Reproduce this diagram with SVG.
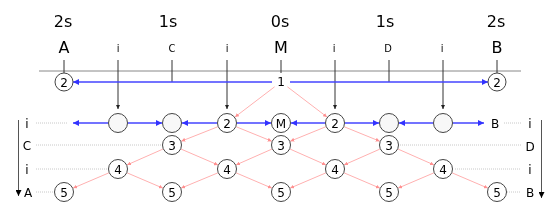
<svg xmlns="http://www.w3.org/2000/svg" width="558" height="204" viewBox="0 0 558 204">
<defs>
<style>
svg{will-change:transform}
text{font-family:"DejaVu Sans","Liberation Sans",sans-serif;fill:#000;text-anchor:middle}
.big{font-size:16px}
.sm{font-size:11px;font-family:"DejaVu Sans Condensed","DejaVu Sans",sans-serif}
.lab{font-size:12px}
.num{font-size:12px}
.node circle{fill:#fff;stroke:#444;stroke-width:1}
.node.empty circle{fill:#f8f8f8}
.blue{stroke:#4444ff;stroke-width:1.5;fill:none}
.pink{stroke:#ffb0b0;stroke-width:1;fill:none;marker-end:url(#pa)}
.tick{stroke:#333;stroke-width:1;fill:none}
.tickA{stroke:#333;stroke-width:1;fill:none;marker-end:url(#ka)}
.dot{stroke:#c8c8c8;stroke-width:1;stroke-dasharray:1 1;fill:none}
</style>
<marker id="ba" viewBox="0 0 10 10" refX="10" refY="5" markerWidth="7" markerHeight="6" markerUnits="userSpaceOnUse" orient="auto"><path d="M0,0 L10,5 L0,10 z" fill="#3333ff"/></marker>
<marker id="pa" viewBox="0 0 10 10" refX="10" refY="5" markerWidth="4" markerHeight="4" markerUnits="userSpaceOnUse" orient="auto"><path d="M0,0 L10,5 L0,10 z" fill="#ff9090"/></marker>
<marker id="ka" viewBox="0 0 10 10" refX="10" refY="5" markerWidth="4" markerHeight="4" markerUnits="userSpaceOnUse" orient="auto"><path d="M0,0 L10,5 L0,10 z" fill="#222"/></marker>
<marker id="va" viewBox="0 0 10 10" refX="10" refY="5" markerWidth="6" markerHeight="6" markerUnits="userSpaceOnUse" orient="auto"><path d="M0,0 L10,5 L0,10 z" fill="#000"/></marker>
</defs>

<g id="labels-top">
<text class="big" x="63" y="27">2s</text>
<text class="big" x="168" y="27">1s</text>
<text class="big" x="280" y="27">0s</text>
<text class="big" x="385" y="27">1s</text>
<text class="big" x="496" y="27">2s</text>
<text class="big" x="64" y="53">A</text>
<text class="sm" x="118" y="52">i</text>
<text class="sm" x="172" y="52">C</text>
<text class="sm" x="227" y="52">i</text>
<text class="big" x="281" y="53">M</text>
<text class="sm" x="334" y="52">i</text>
<text class="sm" x="388" y="52">D</text>
<text class="sm" x="442" y="52">i</text>
<text class="big" x="497" y="53">B</text>
</g>

<g id="axis">
<line x1="39" y1="71" x2="521" y2="71" stroke="#888" stroke-width="1"/>
</g>

<g id="connectors">
<line class="tick" x1="64" y1="60" x2="64" y2="73"/>
<line class="tick" x1="172" y1="60" x2="172" y2="82"/>
<line class="tick" x1="281" y1="60" x2="281" y2="73"/>
<line class="tick" x1="389" y1="60" x2="389" y2="82"/>
<line class="tick" x1="497" y1="60" x2="497" y2="73"/>
<line class="tickA" x1="118" y1="60" x2="118" y2="109"/>
<line class="tickA" x1="227" y1="60" x2="227" y2="109"/>
<line class="tickA" x1="335" y1="60" x2="335" y2="109"/>
<line class="tickA" x1="443" y1="60" x2="443" y2="109"/>
<line class="blue" x1="272" y1="82" x2="73" y2="82" marker-end="url(#ba)"/>
<line class="blue" x1="290" y1="82" x2="488" y2="82" marker-end="url(#ba)"/>
<line class="blue" x1="108" y1="123" x2="73" y2="123" marker-end="url(#ba)"/>
<line class="blue" x1="128" y1="123" x2="162" y2="123" marker-end="url(#ba)"/>
<line class="blue" x1="217" y1="123" x2="182" y2="123" marker-end="url(#ba)"/>
<line class="blue" x1="237" y1="123" x2="271" y2="123" marker-end="url(#ba)"/>
<line class="blue" x1="325" y1="123" x2="291" y2="123" marker-end="url(#ba)"/>
<line class="blue" x1="345" y1="123" x2="379" y2="123" marker-end="url(#ba)"/>
<line class="blue" x1="433" y1="123" x2="399" y2="123" marker-end="url(#ba)"/>
<line class="blue" x1="453" y1="123" x2="484" y2="123" marker-end="url(#ba)"/>
<line class="pink" x1="274.6" y1="86.8" x2="235" y2="117"/>
<line class="pink" x1="287.4" y1="86.8" x2="327" y2="117"/>
<line class="pink" x1="217.7" y1="126.8" x2="181.3" y2="141.2"/>
<line class="pink" x1="236.3" y1="126.8" x2="271.7" y2="141.2"/>
<line class="pink" x1="325.7" y1="126.8" x2="290.3" y2="141.2"/>
<line class="pink" x1="344.3" y1="126.8" x2="379.7" y2="141.2"/>
<line class="pink" x1="162.9" y1="149.1" x2="127.1" y2="164.9"/>
<line class="pink" x1="181.1" y1="149.1" x2="217.9" y2="164.9"/>
<line class="pink" x1="271.9" y1="149.1" x2="236.1" y2="164.9"/>
<line class="pink" x1="290.1" y1="149.1" x2="325.9" y2="164.9"/>
<line class="pink" x1="379.9" y1="149.1" x2="344.1" y2="164.9"/>
<line class="pink" x1="398.1" y1="149.1" x2="433.9" y2="164.9"/>
<line class="pink" x1="108.8" y1="172.9" x2="73.2" y2="188.1"/>
<line class="pink" x1="127.2" y1="172.9" x2="162.8" y2="188.1"/>
<line class="pink" x1="217.8" y1="172.9" x2="181.2" y2="188.1"/>
<line class="pink" x1="236.2" y1="172.9" x2="271.8" y2="188.1"/>
<line class="pink" x1="325.8" y1="172.9" x2="290.2" y2="188.1"/>
<line class="pink" x1="344.2" y1="172.9" x2="379.8" y2="188.1"/>
<line class="pink" x1="433.8" y1="172.9" x2="398.2" y2="188.1"/>
<line class="pink" x1="452.2" y1="172.9" x2="487.8" y2="188.1"/>
<line class="dot" x1="36" y1="123" x2="67" y2="123"/>
<line class="dot" x1="36" y1="145" x2="161" y2="145"/>
<line class="dot" x1="36" y1="169" x2="108" y2="169"/>
<line class="dot" x1="36" y1="192" x2="54" y2="192"/>
<line class="dot" x1="504" y1="123" x2="522" y2="123"/>
<line class="dot" x1="400" y1="145" x2="521" y2="145"/>
<line class="dot" x1="455" y1="169" x2="521" y2="169"/>
<line class="dot" x1="507" y1="192" x2="521" y2="192"/>
<line x1="18.5" y1="120" x2="18.5" y2="196" stroke="#555" stroke-width="1" marker-end="url(#va)"/>
<line x1="541.5" y1="120" x2="541.5" y2="198" stroke="#555" stroke-width="1" marker-end="url(#va)"/>
</g>

<g id="side-labels">
<text class="lab" x="27" y="128">i</text>
<text class="lab" x="27" y="150">C</text>
<text class="lab" x="27" y="174">i</text>
<text class="lab" x="28" y="197">A</text>
<text class="lab" x="530" y="128">i</text>
<text class="lab" x="530" y="151">D</text>
<text class="lab" x="530" y="174">i</text>
<text class="lab" x="530" y="197">B</text>
<text class="lab" x="495" y="128">B</text>
<text class="num" x="281" y="86">1</text>
</g>

<g id="n-A2" class="node"><circle cx="64" cy="82" r="9"/><text class="num" x="64" y="86.5">2</text></g>
<g id="n-B2" class="node"><circle cx="497" cy="82" r="9"/><text class="num" x="497" y="86.5">2</text></g>

<g id="n-r1-1" class="node empty"><circle cx="118" cy="123" r="9.5"/></g>
<g id="n-r1-2" class="node empty"><circle cx="172" cy="123" r="9.5"/></g>
<g id="n-r1-3" class="node"><circle cx="227" cy="123" r="9.5"/><text class="num" x="227" y="127.5">2</text></g>
<g id="n-r1-M" class="node"><circle cx="281" cy="123" r="9.5"/><text class="num" x="281" y="127.5">M</text></g>
<g id="n-r1-5" class="node"><circle cx="335" cy="123" r="9.5"/><text class="num" x="335" y="127.5">2</text></g>
<g id="n-r1-6" class="node empty"><circle cx="389" cy="123" r="9.5"/></g>
<g id="n-r1-7" class="node empty"><circle cx="443" cy="123" r="9.5"/></g>

<g id="n-r2-1" class="node"><circle cx="172" cy="145" r="9.5"/><text class="num" x="172" y="149.5">3</text></g>
<g id="n-r2-2" class="node"><circle cx="281" cy="145" r="9.5"/><text class="num" x="281" y="149.5">3</text></g>
<g id="n-r2-3" class="node"><circle cx="389" cy="145" r="9.5"/><text class="num" x="389" y="149.5">3</text></g>

<g id="n-r3-1" class="node"><circle cx="118" cy="169" r="9.5"/><text class="num" x="118" y="173.5">4</text></g>
<g id="n-r3-2" class="node"><circle cx="227" cy="169" r="9.5"/><text class="num" x="227" y="173.5">4</text></g>
<g id="n-r3-3" class="node"><circle cx="335" cy="169" r="9.5"/><text class="num" x="335" y="173.5">4</text></g>
<g id="n-r3-4" class="node"><circle cx="443" cy="169" r="9.5"/><text class="num" x="443" y="173.5">4</text></g>

<g id="n-r4-1" class="node"><circle cx="64" cy="192" r="9.5"/><text class="num" x="64" y="196.5">5</text></g>
<g id="n-r4-2" class="node"><circle cx="172" cy="192" r="9.5"/><text class="num" x="172" y="196.5">5</text></g>
<g id="n-r4-3" class="node"><circle cx="281" cy="192" r="9.5"/><text class="num" x="281" y="196.5">5</text></g>
<g id="n-r4-4" class="node"><circle cx="389" cy="192" r="9.5"/><text class="num" x="389" y="196.5">5</text></g>
<g id="n-r4-5" class="node"><circle cx="497" cy="192" r="9.5"/><text class="num" x="497" y="196.5">5</text></g>
</svg>
